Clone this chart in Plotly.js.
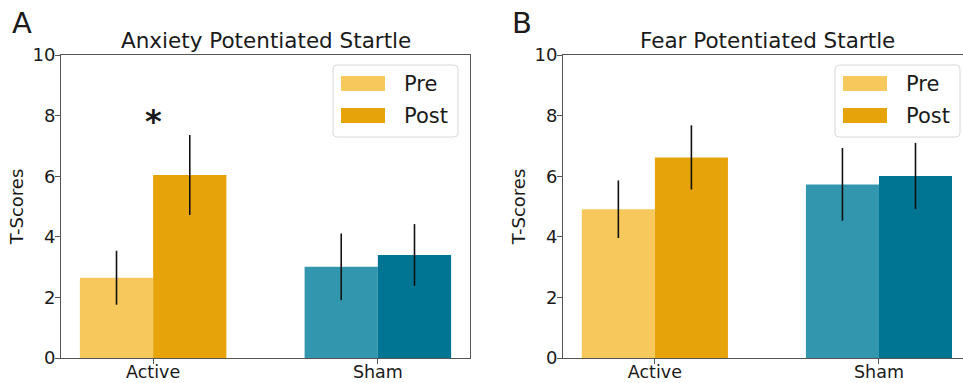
<!DOCTYPE html>
<html>
<head>
<meta charset="utf-8">
<script src="https://cdn.plot.ly/plotly-3.0.1.min.js"></script>
<style>html,body{margin:0;padding:0;background:#fff;}#chart{width:963px;height:383px;}</style>
</head>
<body>
<div id="chart"></div>
<script>
// ---- data ----
const categories = ['Active', 'Sham'];
const seriesNames = ['Pre', 'Post'];
const anxietyPre = [2.65, 3.01];
const anxietyPreErr = [0.89, 1.10];
const anxietyPost = [6.04, 3.40];
const anxietyPostErr = [1.32, 1.02];
const fearPre = [4.91, 5.73];
const fearPreErr = [0.95, 1.20];
const fearPost = [6.62, 6.01];
const fearPostErr = [1.06, 1.09];
const yTicks = [0, 2, 4, 6, 8, 10];
const panelTitles = ['Anxiety Potentiated Startle', 'Fear Potentiated Startle'];
const panelLabels = ['A', 'B'];
const yLabel = 'T-Scores';

// ---- style ----
const preColors = ['#f7c95c', '#3196ae'];
const postColors = ['#e6a30a', '#007593'];
const W = 963, H = 383;
const px = x => x / W;
const py = y => 1 - y / H;
const FONT = 'DejaVu Sans, sans-serif';
const TXT = '#1a1a1a';
const AX = '#555';

function barTrace(vals, errs, colors, name, xa, ya) {
  return {
    type: 'bar', x: categories, y: vals, name: name,
    xaxis: xa, yaxis: ya, showlegend: false,
    marker: {color: colors, line: {width: 0}},
    error_y: {type: 'data', array: errs, visible: true, color: '#111', thickness: 1.6, width: 0}
  };
}

const data = [
  barTrace(anxietyPre, anxietyPreErr, preColors, seriesNames[0], 'x', 'y'),
  barTrace(anxietyPost, anxietyPostErr, postColors, seriesNames[1], 'x', 'y'),
  barTrace(fearPre, fearPreErr, preColors, seriesNames[0], 'x2', 'y2'),
  barTrace(fearPost, fearPostErr, postColors, seriesNames[1], 'x2', 'y2')
];

function xAxis(domain, range, anchor) {
  return {
    domain: domain, range: range, anchor: anchor, type: 'category',
    showline: true, linecolor: AX, linewidth: 1, mirror: true,
    ticks: 'outside', ticklen: 5, tickcolor: AX, showgrid: false, zeroline: false,
    ticklabelstandoff: -7,
    tickfont: {family: FONT, size: 17.5, color: TXT}, fixedrange: true
  };
}
function yAxis(domain, anchor) {
  return {
    domain: domain, range: [0, 10], anchor: anchor, tickvals: yTicks,
    showline: true, linecolor: AX, linewidth: 1, mirror: true,
    ticks: 'outside', ticklen: 5, tickcolor: AX, showgrid: false, zeroline: false,
    ticklabelstandoff: -4,
    tickfont: {family: FONT, size: 18, color: TXT},
    title: {text: yLabel, font: {family: FONT, size: 18, color: TXT}, standoff: 4},
    fixedrange: true
  };
}

const yDom = [py(358), py(55)];
const shapes = [], annotations = [];

// legends (drawn manually to match wide matplotlib patches)
function legend(x0) {
  const bx0 = x0, bx1 = x0 + 125, by0 = 65, by1 = 137, r = 4;
  const path = `M${px(bx0 + r)},${py(by0)} L${px(bx1 - r)},${py(by0)} Q${px(bx1)},${py(by0)} ${px(bx1)},${py(by0 + r)} ` +
    `L${px(bx1)},${py(by1 - r)} Q${px(bx1)},${py(by1)} ${px(bx1 - r)},${py(by1)} L${px(bx0 + r)},${py(by1)} ` +
    `Q${px(bx0)},${py(by1)} ${px(bx0)},${py(by1 - r)} L${px(bx0)},${py(by0 + r)} Q${px(bx0)},${py(by0)} ${px(bx0 + r)},${py(by0)} Z`;
  shapes.push({type: 'path', xref: 'paper', yref: 'paper', path: path,
    fillcolor: 'rgba(255,255,255,0.85)', line: {color: '#d8d8d8', width: 1}});
  const rows = [[76, 91], [108, 123]];
  const cols = [preColors[0], postColors[0]];
  rows.forEach((rw, i) => {
    shapes.push({type: 'rect', xref: 'paper', yref: 'paper',
      x0: px(x0 + 8), x1: px(x0 + 52), y0: py(rw[1]), y1: py(rw[0]),
      fillcolor: cols[i], line: {width: 0}});
    annotations.push({xref: 'paper', yref: 'paper', x: px(x0 + 69), y: py((rw[0] + rw[1]) / 2),
      xanchor: 'left', yanchor: 'middle', showarrow: false, text: seriesNames[i],
      font: {family: FONT, size: 21, color: TXT}});
  });
}
legend(333);
legend(835);

// titles
annotations.push({xref: 'paper', yref: 'paper', x: px(265.5), y: py(41), xanchor: 'center', yanchor: 'middle',
  showarrow: false, text: panelTitles[0], font: {family: FONT, size: 21.5, color: TXT}});
annotations.push({xref: 'paper', yref: 'paper', x: px(767), y: py(41), xanchor: 'center', yanchor: 'middle',
  showarrow: false, text: panelTitles[1], font: {family: FONT, size: 21.5, color: TXT}});
// panel labels
annotations.push({xref: 'paper', yref: 'paper', x: px(10), y: py(23), xanchor: 'left', yanchor: 'middle',
  showarrow: false, text: panelLabels[0], font: {family: FONT, size: 29, color: TXT}});
annotations.push({xref: 'paper', yref: 'paper', x: px(510), y: py(23), xanchor: 'left', yanchor: 'middle',
  showarrow: false, text: panelLabels[1], font: {family: FONT, size: 29, color: TXT}});
// significance star
annotations.push({xref: 'x', yref: 'paper', x: categories[0], y: py(121), xanchor: 'center', yanchor: 'middle',
  showarrow: false, text: '<b>*</b>', font: {family: FONT, size: 32, color: TXT}});

const layout = {
  width: W, height: H,
  margin: {l: 0, r: 0, t: 0, b: 0},
  paper_bgcolor: '#fff', plot_bgcolor: '#fff',
  barmode: 'group', bargap: 0.348, bargroupgap: 0,
  showlegend: false,
  xaxis: xAxis([px(61), px(470)], [-0.41, 1.41], 'y'),
  yaxis: yAxis(yDom, 'x'),
  xaxis2: xAxis([px(563), 1], [-0.41, 1.375], 'y2'),
  yaxis2: yAxis(yDom, 'x2'),
  shapes: shapes, annotations: annotations,
  font: {family: FONT, color: TXT}
};

Plotly.newPlot('chart', data, layout, {displayModeBar: false, staticPlot: true});
</script>
</body>
</html>
